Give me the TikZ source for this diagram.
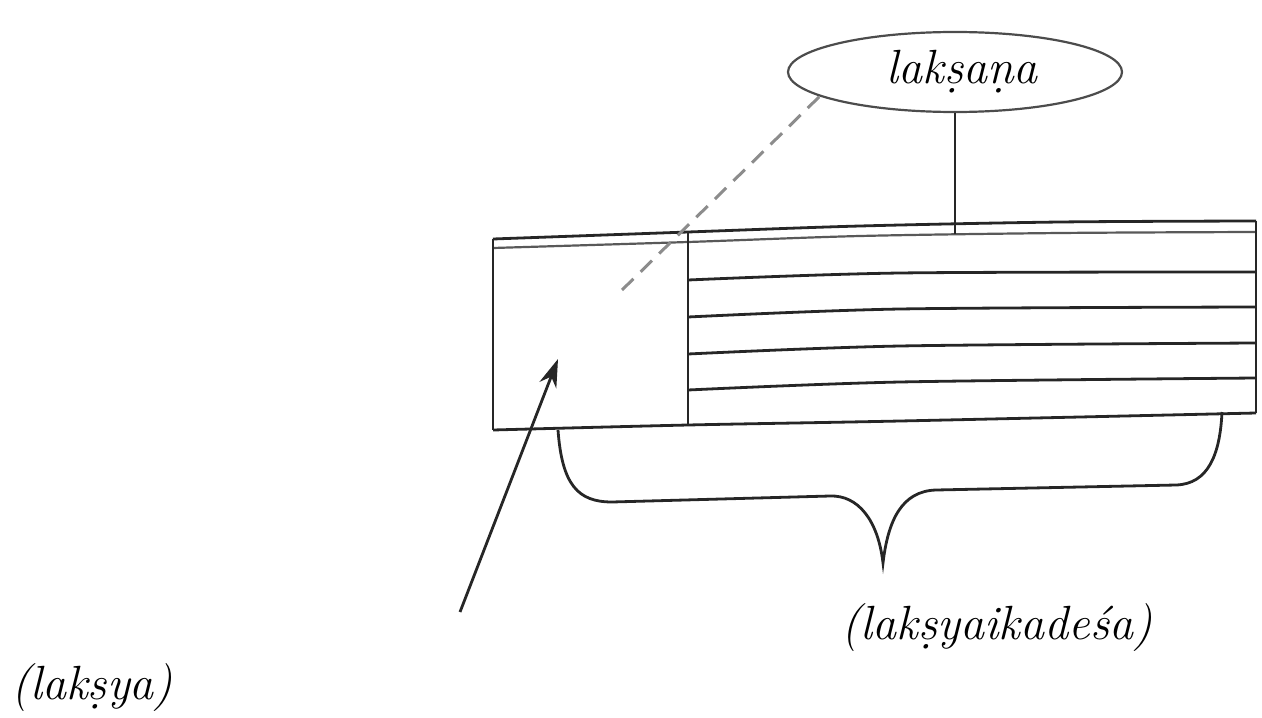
\documentclass[tikz,border=0pt]{standalone}
\usetikzlibrary{shapes.geometric,arrows.meta}
\begin{document}
\begin{tikzpicture}[x=0.5pt,y=-0.5pt,
  ink/.style={line width=1.4pt,black!85},
  thin ink/.style={line width=1.1pt,black!65},
  label text/.style={font=\fontsize{24pt}{28pt}\selectfont\itshape,inner sep=0pt},
  oval/.style={draw=black!70,line width=1.1pt,ellipse,minimum width=167pt,minimum height=40pt,inner sep=0pt}]
\useasboundingbox (0,0) rectangle (1262,717);
% ellipse
\node[oval] (lak) at (955,72) {};
\node[label text] (laktext) at (962,72) {lakṣaṇa};
% rectangle corners
\coordinate (tl) at (493,239);
\coordinate (bl) at (493,430);
\coordinate (dt) at (688,232);
\coordinate (db) at (688,425);
\coordinate (tr) at (1256,221);
\coordinate (br) at (1256,413);
\coordinate (vt) at (955,234);
% top double line
\draw[ink] plot[smooth] coordinates {(tl) (dt) (860,226) (1060,222) (tr)};
\draw[thin ink] plot[smooth] coordinates {(493,248) (688,242) (860,236) (1060,233) (1256,232)};
% edges
\draw[ink] (tl) -- (bl);
\draw[ink] (tr) -- (br);
\draw[ink] (dt) -- (db);
\draw[ink] plot[smooth] coordinates {(bl) (db) (900,421) (br)};
% inner lines
\draw[ink] plot[smooth] coordinates {(688,280) (900,273) (1256,272)};
\draw[ink] plot[smooth] coordinates {(688,317) (900,309) (1256,307)};
\draw[ink] plot[smooth] coordinates {(688,354) (900,346) (1256,343)};
\draw[ink] plot[smooth] coordinates {(688,390) (900,382) (1256,378)};
% connector from ellipse
\draw[ink] (lak.south) -- (vt);
% dashed line
\coordinate (dsA) at (622,290);
\coordinate (dsB) at (820,96);
\draw[line width=1.5pt,black!45,dash pattern=on 8pt off 5pt] (dsA) -- (dsB);
% arrow
\coordinate (arA) at (460,612);
\coordinate (arB) at (558,359);
\draw[ink,-{Stealth[length=14pt,width=9pt]}] (arA) -- (arB);
% brace
\coordinate (brA) at (558,430);
\coordinate (brTip) at (883,563);
\coordinate (brB) at (1222,412);
\draw[ink] (brA) .. controls (562,485) and (578,502) .. (612,502)
  -- (830,496) .. controls (858,495) and (878,520) .. (brTip)
  .. controls (888,520) and (902,491) .. (936,490)
  -- (1176,485) .. controls (1208,484) and (1220,455) .. (brB);
% labels
\node[label text] (ekadesa) at (997,628) {(lakṣyaikadeśa)};
\node[label text] (laksya) at (92,688) {(lakṣya)};
\end{tikzpicture}
\end{document}
